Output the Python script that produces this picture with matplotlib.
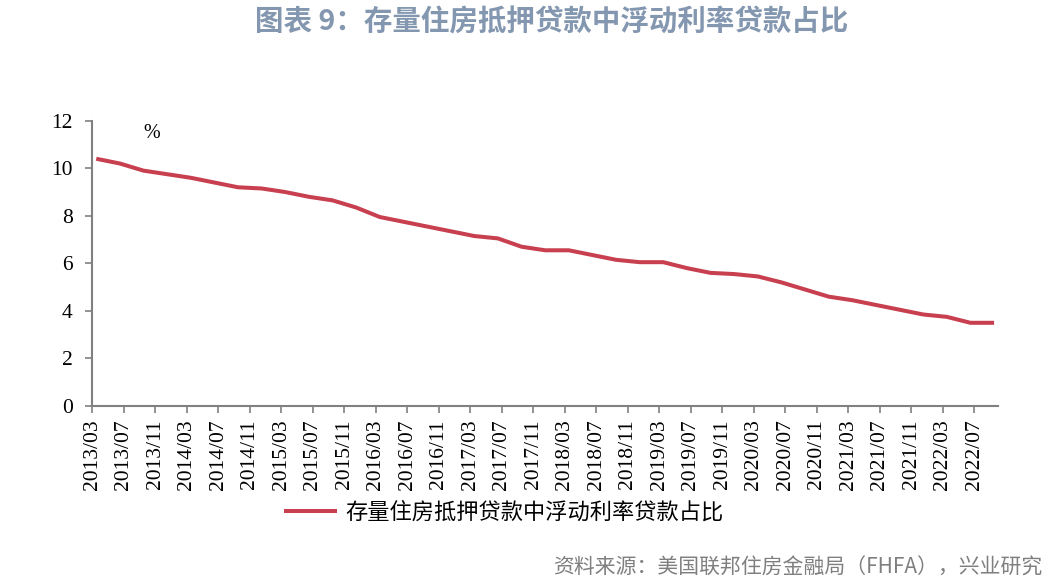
import matplotlib
matplotlib.use("Agg")
import matplotlib.pyplot as plt
import matplotlib.transforms as mtransforms
from matplotlib.lines import Line2D

# ---- data ----
quarters = ["2013/03","2013/06","2013/09","2013/12",
            "2014/03","2014/06","2014/09","2014/12",
            "2015/03","2015/06","2015/09","2015/12",
            "2016/03","2016/06","2016/09","2016/12",
            "2017/03","2017/06","2017/09","2017/12",
            "2018/03","2018/06","2018/09","2018/12",
            "2019/03","2019/06","2019/09","2019/12",
            "2020/03","2020/06","2020/09","2020/12",
            "2021/03","2021/06","2021/09","2021/12",
            "2022/03","2022/06","2022/09"]
share = [10.4, 10.2, 9.9, 9.75, 9.6, 9.4, 9.2, 9.15, 9.0, 8.8, 8.65, 8.35,
         7.95, 7.75, 7.55, 7.35, 7.15, 7.05, 6.7, 6.55, 6.55, 6.35, 6.15, 6.05,
         6.05, 5.8, 5.6, 5.55, 5.45, 5.2, 4.9, 4.6, 4.45, 4.25, 4.05, 3.85,
         3.75, 3.5, 3.5]
tick_labels = [f"{y}/{m:02d}" for y in range(2013, 2023) for m in (3, 7, 11)][:29]

series_name = "存量住房抵押贷款中浮动利率贷款占比"
title = "图表 9：存量住房抵押贷款中浮动利率贷款占比"
source = "资料来源：美国联邦住房金融局（FHFA），兴业研究"

# month index relative to 2013/03
def midx(s):
    y, m = s.split("/")
    return (int(y) - 2013) * 12 + int(m) - 3

x = [midx(q) for q in quarters]
tick_pos = [midx(t) - 0.5 for t in tick_labels]

cjk = ["Noto Sans CJK SC", "DejaVu Sans"]
serif = ["Liberation Serif", "DejaVu Serif"]
line_color = "#C8404F"
axis_color = "#808080"

fig = plt.figure(figsize=(10.5, 5.88), dpi=100)
ax = fig.add_axes([0.0879, 0.3095, 0.8626, 0.4852])

ax.plot(x, share, color=line_color, lw=2.9, solid_capstyle="butt")

ax.set_xlim(-0.5, 114.5)
ax.set_ylim(0, 12)
ax.set_yticks(range(0, 13, 2))
ax.set_xticks(tick_pos)
ax.set_xticklabels(tick_labels, rotation=90, fontsize=15.5, family=serif)
shift = mtransforms.ScaledTranslation(3 / 100, 0, fig.dpi_scale_trans)
for lab in ax.get_xticklabels():
    lab.set_transform(lab.get_transform() + shift)
for lab in ax.get_yticklabels():
    lab.set_fontsize(15.5)
    lab.set_family(serif)

for s in ("top", "right"):
    ax.spines[s].set_visible(False)
for s in ("left", "bottom"):
    ax.spines[s].set_color(axis_color)
    ax.spines[s].set_linewidth(1.5)
ax.tick_params(axis="both", direction="out", length=5, width=1.2, color=axis_color,
               labelcolor="black", pad=4.5)
ax.tick_params(axis="y", pad=9)

ax.text(0.066, 0.955, "%", transform=ax.transAxes, fontsize=14.5, family=serif,
        ha="center", va="center")

fig.text(0.525, 0.962, title, ha="center", va="center", fontsize=20.5,
         fontweight="bold", color="#8497B0", family=cjk)

handle = Line2D([], [], color=line_color, lw=2.9)
fig.legend([handle], [series_name], loc="center", bbox_to_anchor=(0.4805, 0.129),
           frameon=False, prop={"family": cjk, "size": 16}, handlelength=2.2,
           handletextpad=0.45)

fig.text(0.993, 0.034, source, ha="right", va="center", fontsize=15,
         color="#7F7F7F", family=cjk)

fig.savefig("out.png", dpi=100)
